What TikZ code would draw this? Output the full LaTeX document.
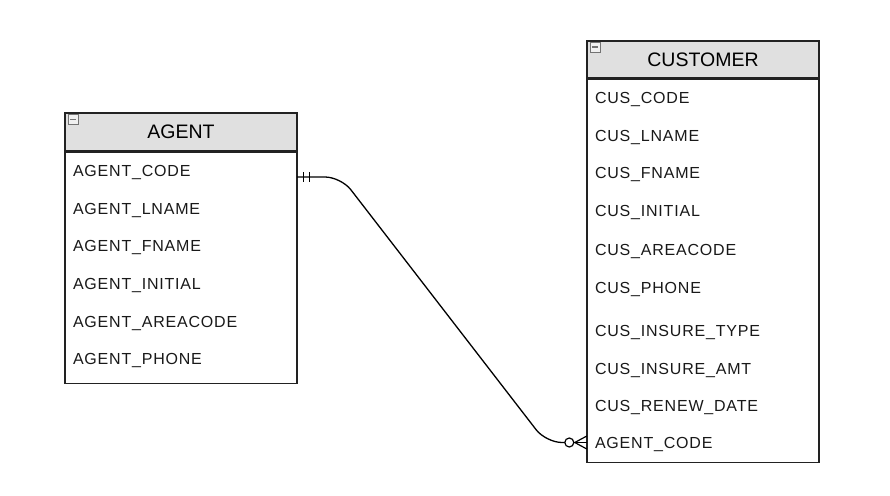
\documentclass[tikz,border=0pt]{standalone}
\usepackage{fontspec}
\setmainfont{Liberation Sans}
\usetikzlibrary{positioning}

\definecolor{headgray}{HTML}{E0E0E0}
\definecolor{framegray}{HTML}{222222}

\tikzset{
  head/.style={draw=framegray, fill=headgray, line width=1.2pt,
    minimum width=232pt, inner sep=0pt,
    font=\fontsize{19.5}{20}\selectfont},
  body/.style={draw=framegray, fill=white, line width=1.2pt,
    minimum width=232pt, inner sep=0pt},
  attr/.style={minimum width=232pt, minimum height=30pt, inner xsep=8pt,
    text width=216pt, align=left, inner ysep=0pt, text=black!90,
    font=\fontsize{16}{16}\selectfont\addfontfeatures{LetterSpace=5}},
  toggle/.style={draw=black!55, fill=black!6, line width=0.8pt,
    minimum size=10pt, inner sep=0pt,
    path picture={\draw[line width=1.8pt] ([xshift=2pt]path picture bounding box.west)
      -- ([xshift=-2pt]path picture bounding box.east);}},
  link/.style={line width=1.3pt, rounded corners=16pt}
}

\begin{document}
\begin{tikzpicture}[x=1pt, y=-1pt]

  \useasboundingbox (0,0) rectangle (890,495);

  %% AGENT
  \node[head, minimum height=38pt] (aghead) at (181,132) {AGENT};
  \node[body, minimum height=231pt, below=0pt of aghead] (agbody) {};
  \node[toggle] at ([xshift=9pt,yshift=-7pt]aghead.north west) {};

  \node[attr] (ag1) at (181,173) {AGENT\_CODE};
  \node[attr] (ag2) at (181,210.5) {AGENT\_LNAME};
  \node[attr] (ag3) at (181,248) {AGENT\_FNAME};
  \node[attr] (ag4) at (181,285.5) {AGENT\_INITIAL};
  \node[attr] (ag5) at (181,323) {AGENT\_AREACODE};
  \node[attr] (ag6) at (181,360.5) {AGENT\_PHONE};

  %% CUSTOMER
  \node[head, minimum height=37pt] (cuhead) at (703,59.5) {CUSTOMER};
  \node[body, minimum height=383pt, below=0pt of cuhead] (cubody) {};
  \node[toggle] at ([xshift=9pt,yshift=-7pt]cuhead.north west) {};

  \node[attr] (cu1)  at (703,100)   {CUS\_CODE};
  \node[attr] (cu2)  at (703,137.5) {CUS\_LNAME};
  \node[attr] (cu3)  at (703,175)   {CUS\_FNAME};
  \node[attr] (cu4)  at (703,213)   {CUS\_INITIAL};
  \node[attr] (cu5)  at (703,251)   {CUS\_AREACODE};
  \node[attr] (cu6)  at (703,289)   {CUS\_PHONE};
  \node[attr] (cu7)  at (703,332)   {CUS\_INSURE\_TYPE};
  \node[attr] (cu8)  at (703,370)   {CUS\_INSURE\_AMT};
  \node[attr] (cu9)  at (703,407)   {CUS\_RENEW\_DATE};
  \node[attr] (cu10) at (703,444)   {AGENT\_CODE};

  %% relationship ag1 -> cu10
  \coordinate (bend1) at (341,177);
  \coordinate (bend2) at (546,442.5);
  \draw[link] ([yshift=-4pt]ag1.east) -- (bend1) -- (bend2) -- ([xshift=-22pt,yshift=1.5pt]cu10.west);

  %% one and only one
  \draw[line width=1.2pt] ([xshift=6pt,yshift=1pt]ag1.east) -- ([xshift=6pt,yshift=-9pt]ag1.east);
  \draw[line width=1.2pt] ([xshift=12pt,yshift=1pt]ag1.east) -- ([xshift=12pt,yshift=-9pt]ag1.east);

  %% zero or many
  \draw[line width=1.2pt, fill=white] ([xshift=-17.5pt,yshift=1.5pt]cu10.west) circle (4.5pt);
  \draw[line width=1.2pt] ([xshift=-13pt,yshift=1.5pt]cu10.west) -- ([yshift=1.5pt]cu10.west);
  \draw[line width=1.2pt] ([yshift=8pt]cu10.west) -- ([xshift=-12pt,yshift=1.5pt]cu10.west)
    -- ([yshift=-5pt]cu10.west);

\end{tikzpicture}
\end{document}
